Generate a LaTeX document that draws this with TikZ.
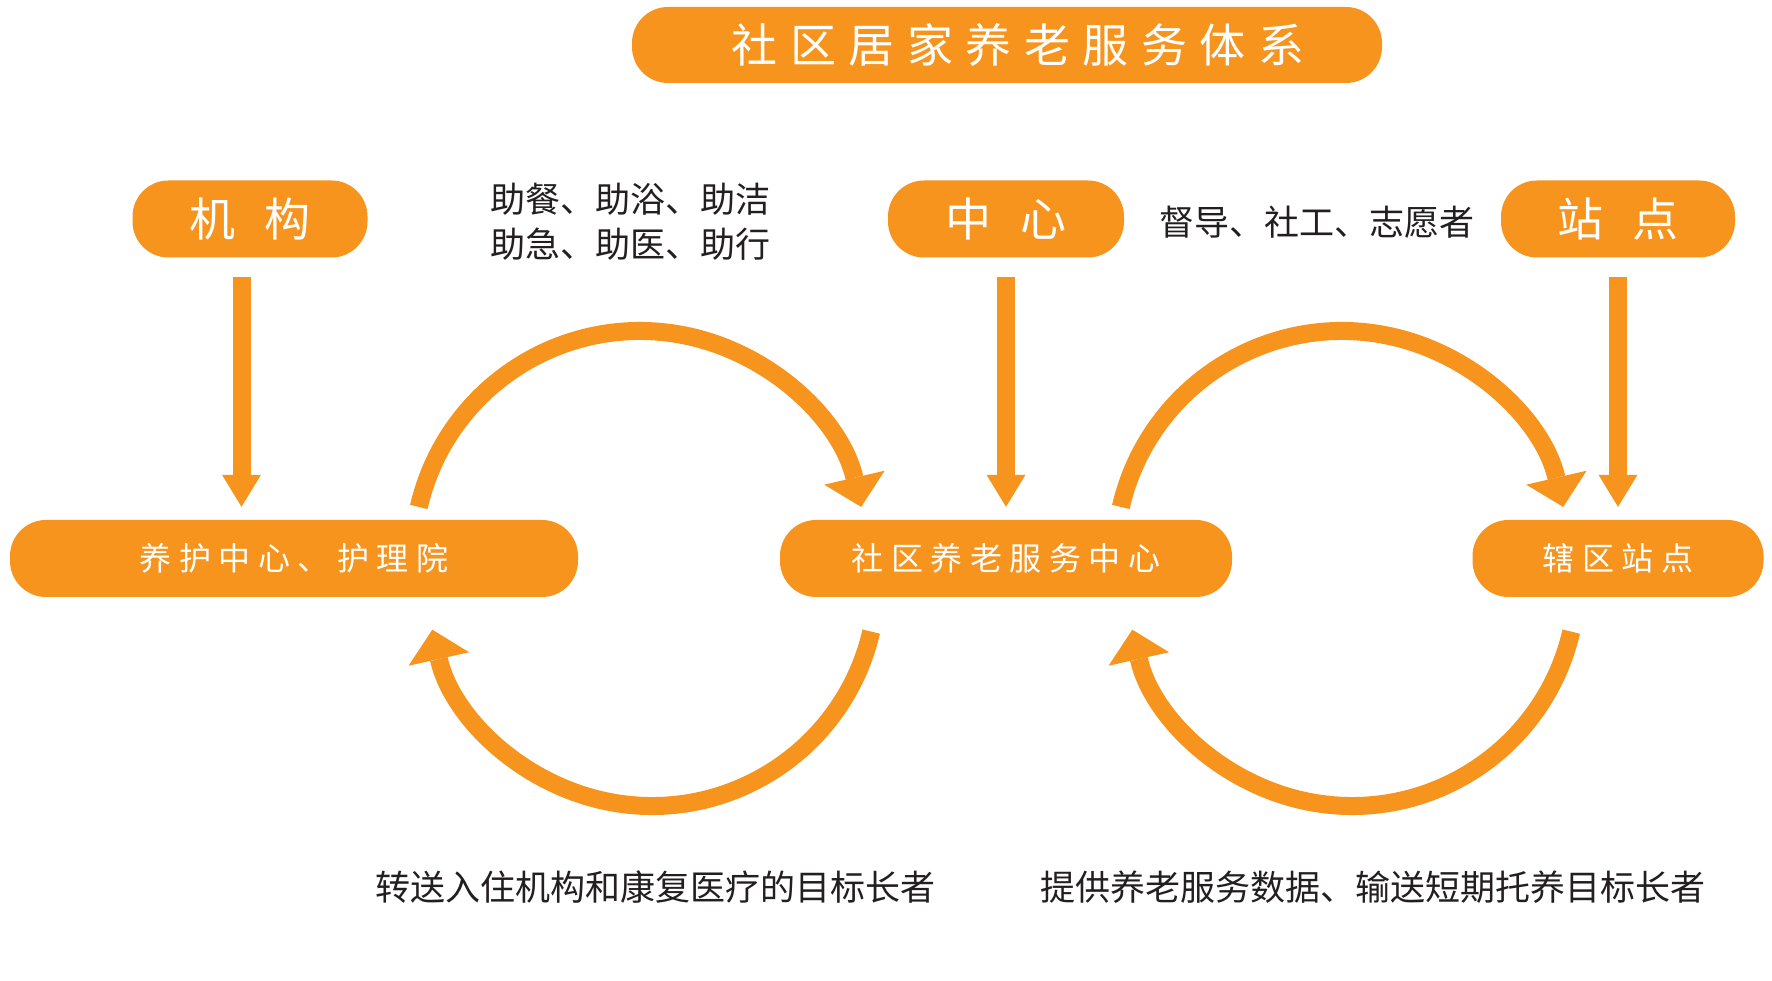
\documentclass[tikz,border=0pt]{standalone}
\usepackage{fontspec}
\setmainfont{Noto Sans CJK SC}
\usetikzlibrary{arrows.meta,calc}
\definecolor{org}{HTML}{F7941D}
\definecolor{ink}{HTML}{231F20}
\ExplSyntaxOn
\NewDocumentCommand\spaced{mm}{\tl_map_inline:nn {#2} {##1\hspace{#1}}\unskip}
\ExplSyntaxOff
\begin{document}
\begin{tikzpicture}[x=1pt,y=1pt,
  pill/.style={fill=org, text=white, rounded corners=36pt, minimum height=77pt, inner sep=0pt},
  bigtxt/.style={font=\fontsize{46}{50}\selectfont},
  midtxt/.style={font=\fontsize{32}{36}\selectfont},
  lbl/.style={text=ink, font=\fontsize{35}{45}\selectfont, inner sep=0pt, align=center},
  varrow/.style={draw=org, line width=18pt, -{Triangle[width=39pt,length=32pt,line width=0pt]}},
  carrow/.style={draw=org, line width=18pt, -{Triangle[width=62pt,length=30pt,line width=0pt]}}]
\fill[white] (0,0) rectangle (1772,980);
\useasboundingbox (0,0) rectangle (1772,980);

% pills
\node[pill, bigtxt, minimum width=750pt, minimum height=76pt] (title) at (1007,935) {\hspace*{22pt}\spaced{12.5pt}{社区居家养老服务体系}};
\node[pill, bigtxt, minimum width=235pt] (jg) at (250,761) {\spaced{29pt}{机构}};
\node[pill, bigtxt, minimum width=236pt] (zx) at (1006,761) {\spaced{29pt}{中心}};
\node[pill, bigtxt, minimum width=234pt] (zd) at (1618,761) {\spaced{29pt}{站点}};
\node[pill, midtxt, minimum width=568pt] (yh) at (294,421.5) {\spaced{7.5pt}{养护中心、护理院}};
\node[pill, midtxt, minimum width=452pt] (sq) at (1006,421.5) {\spaced{7.5pt}{社区养老服务中心}};
\node[pill, midtxt, minimum width=291pt] (xq) at (1618,421.5) {\spaced{7.5pt}{辖区站点}};

% labels
\node[lbl] (t1) at (630,758.5) {助餐、助浴、助洁\\助急、助医、助行};
\node[lbl] (t2) at (1317,758) {督导、社工、志愿者};
\node[lbl] (t3) at (655,93) {转送入住机构和康复医疗的目标长者};
\node[lbl] (t4) at (1373,93) {提供养老服务数据、输送短期托养目标长者};

% vertical arrows
\draw[varrow] ($(jg.south)+(-8.5,-19)$) -- ($(jg.south |- yh.north)+(-8.5,13)$);
\draw[varrow] ($(zx.south)+(0,-19)$) -- ($(sq.north)+(0,13)$);
\draw[varrow] ($(zd.south)+(0,-19)$) -- ($(xq.north)+(0,13)$);

% circular arrows
\coordinate (c1) at (640,422);
\coordinate (c2) at (1342,422);
\coordinate (c3) at (652,399);
\coordinate (c4) at (1352,399);
\draw[carrow] ($(c1)+(167:227)$) arc[start angle=167, end angle=13, radius=227];
\draw[carrow] ($(c2)+(167:227)$) arc[start angle=167, end angle=13, radius=227];
\draw[carrow] ($(c3)+(-13:225)$) arc[start angle=-13, end angle=-167.5, radius=225];
\draw[carrow] ($(c4)+(-13:225)$) arc[start angle=-13, end angle=-167.5, radius=225];
\end{tikzpicture}
\end{document}
